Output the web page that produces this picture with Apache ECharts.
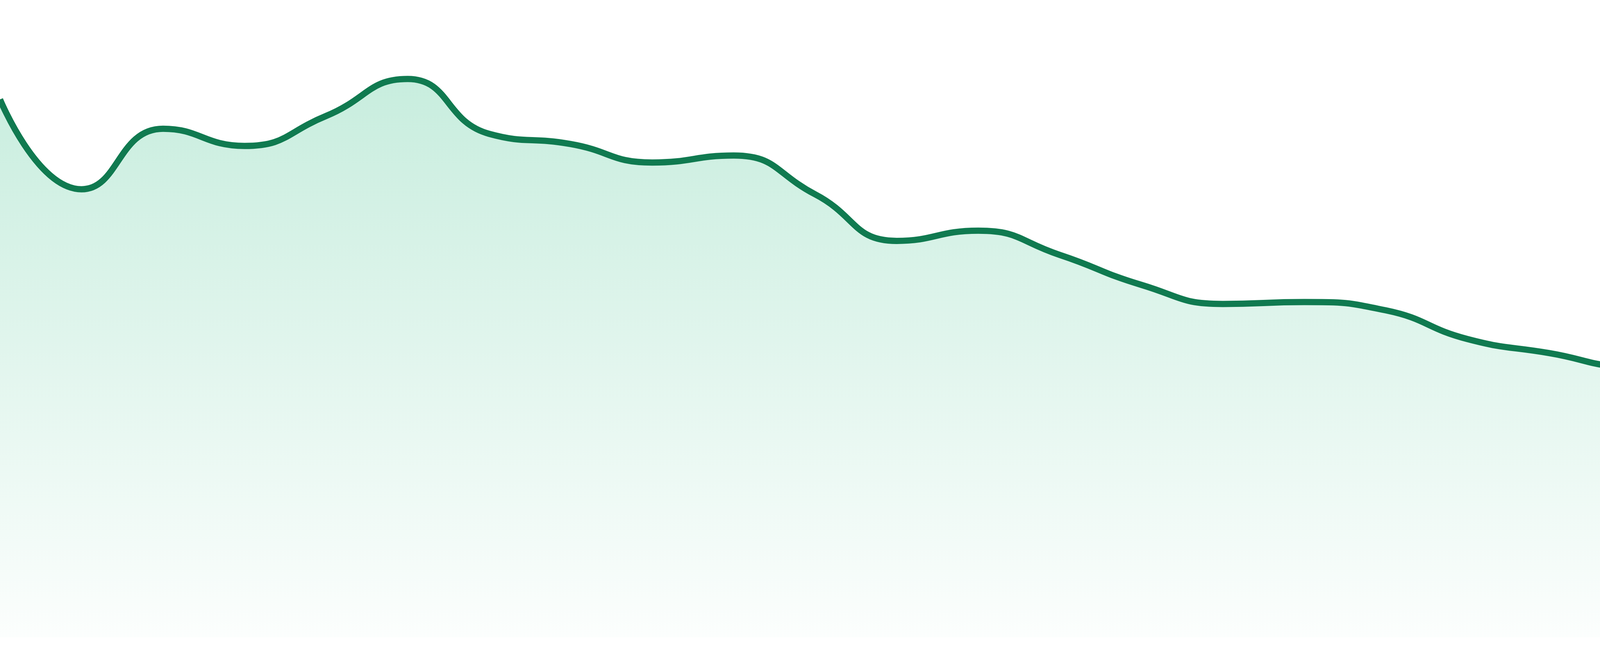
<!DOCTYPE html>
<html>
<head>
<meta charset="utf-8">
<script src="https://cdn.jsdelivr.net/npm/echarts@6/dist/echarts.min.js"></script>
<style>
  html, body { margin: 0; padding: 0; background: #ffffff; }
  #chart { width: 4800px; height: 1680px; }
</style>
</head>
<body>
<div id="chart"></div>
<script>
const categories = [
  "2023-01", "2023-02", "2023-03", "2023-04", "2023-05", "2023-06",
  "2023-07", "2023-08", "2023-09", "2023-10", "2023-11", "2023-12",
  "2024-01", "2024-02", "2024-03", "2024-04", "2024-05", "2024-06",
  "2024-07", "2024-08", "2024-09", "2024-10", "2024-11", "2024-12"
];
const values = [
  84.4, 70.3, 79.8, 77.1, 81.8, 87.6,
  79.0, 77.4, 74.5, 75.6, 69.5, 62.2,
  63.8, 60.0, 55.3, 52.3, 52.6, 51.3,
  46.8, 44.6, 42.5, 45.5, 42.6, 37.4
];
const yMin = 0;
const yMax = 100;

const chart = echarts.init(document.getElementById('chart'), null, { renderer: 'canvas' });
chart.setOption({
  animation: false,
  backgroundColor: '#ffffff',
  grid: { left: 0, right: 0, top: 0, bottom: 48 },
  xAxis: {
    type: 'category',
    data: categories,
    boundaryGap: false,
    show: false
  },
  yAxis: {
    type: 'value',
    min: yMin,
    max: yMax,
    show: false
  },
  series: [{
    type: 'line',
    data: values,
    smooth: true,
    symbol: 'none',
    lineStyle: { color: '#107a50', width: 16 },
    areaStyle: {
      color: new echarts.graphic.LinearGradient(0, 0, 0, 1, [
        { offset: 0, color: 'rgba(16,178,112,0.33)' },
        { offset: 1, color: 'rgba(16,178,112,0.02)' }
      ])
    }
  }]
});
</script>
</body>
</html>
